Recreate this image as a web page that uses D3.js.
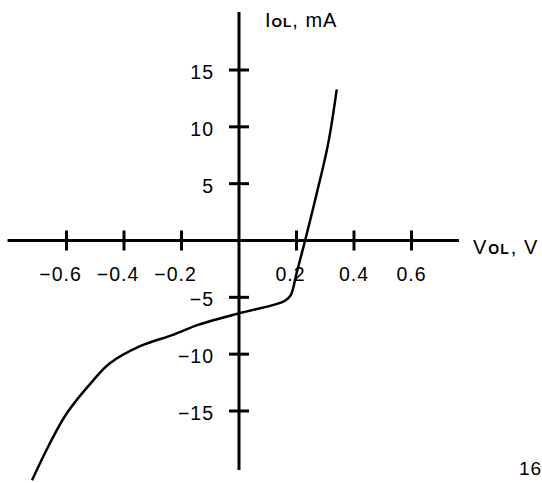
<!DOCTYPE html>
<html>
<head>
<meta charset="utf-8">
<script src="https://cdn.jsdelivr.net/npm/d3@7"></script>
<style>
  body { margin: 0; background: #fff; }
  text { font-family: "Liberation Sans", Arial, sans-serif; fill: #000; letter-spacing: 1px; }
</style>
</head>
<body>
<script>
var width = 542;
var height = 483;

// curve: V_OL in volts, I_OL in mA
var vol = [-0.72, -0.663, -0.599, -0.507, -0.449, -0.344, -0.23, -0.14, 0, 0.13, 0.16, 0.18, 0.2, 0.23, 0.27, 0.31, 0.34];
var iol = [-21.1, -18.1, -15.2, -12.3, -10.8, -9.3, -8.3, -7.4, -6.4, -5.6, -5.3, -4.8, -2.9, 0, 4.1, 8.5, 13.3];

var xTicks = [-0.6, -0.4, -0.2, 0.2, 0.4, 0.6];
var yTicks = [-15, -10, -5, 5, 10, 15];
var xTickLabels = ["\u22120.6", "\u22120.4", "\u22120.2", "0.2", "0.4", "0.6"];
var yTickLabels = ["\u221215", "\u221210", "\u22125", "5", "10", "15"];

var x = d3.scaleLinear().domain([-0.6, 0.6]).range([66.5, 411.5]);
var y = d3.scaleLinear().domain([-15, 15]).range([411, 70]);

var svg = d3.select("body").append("svg")
    .attr("width", width)
    .attr("height", height);

// axes lines
svg.append("line")
  .attr("x1", x(-0.805)).attr("x2", x(0.765))
  .attr("y1", y(0)).attr("y2", y(0))
  .attr("stroke", "black").attr("stroke-width", 3);
svg.append("line")
  .attr("x1", x(0)).attr("x2", x(0))
  .attr("y1", y(20.1)).attr("y2", y(-20.2))
  .attr("stroke", "black").attr("stroke-width", 3);

// x ticks
svg.selectAll(".xtick")
  .data(xTicks)
  .enter()
  .append("line")
  .attr("class", "xtick")
  .attr("x1", function(d) { return x(d); })
  .attr("x2", function(d) { return x(d); })
  .attr("y1", y(0) - 10)
  .attr("y2", y(0) + 10)
  .attr("stroke", "black").attr("stroke-width", 3);

svg.selectAll(".xlab")
  .data(xTicks)
  .enter()
  .append("text")
  .attr("class", "xlab")
  .attr("x", function(d) { return x(d) + (d < 0 ? -6 : (d == 0.2 ? -6 : 0)); })
  .attr("y", y(0) + 40)
  .attr("text-anchor", "middle")
  .style("font-size", "19.5px")
  .text(function(d, i) { return xTickLabels[i]; });

// y ticks
svg.selectAll(".ytick")
  .data(yTicks)
  .enter()
  .append("line")
  .attr("class", "ytick")
  .attr("x1", x(0) - 10)
  .attr("x2", x(0) + 10)
  .attr("y1", function(d) { return y(d); })
  .attr("y2", function(d) { return y(d); })
  .attr("stroke", "black").attr("stroke-width", 3);

svg.selectAll(".ylab")
  .data(yTicks)
  .enter()
  .append("text")
  .attr("class", "ylab")
  .attr("x", x(0) - 25)
  .attr("y", function(d) { return y(d) + 9; })
  .attr("text-anchor", "end")
  .style("font-size", "19.5px")
  .text(function(d, i) { return yTickLabels[i]; });

// the curve
var pts = vol.map(function(v, i) { return [v, iol[i]]; });
var line = d3.line()
  .x(function(d) { return x(d[0]); })
  .y(function(d) { return y(d[1]); })
  .curve(d3.curveCatmullRom.alpha(0.5));

svg.append("path")
  .datum(pts)
  .attr("d", line)
  .attr("fill", "none")
  .attr("stroke", "black")
  .attr("stroke-width", 2.5);

// axis titles
var ti = svg.append("text")
  .attr("x", 265).attr("y", 27)
  .style("font-size", "20px");
ti.append("tspan").text("I");
ti.append("tspan").style("font-size", "13.5px").style("font-weight", "bold").text("OL");
ti.append("tspan").text(", mA");

var tv = svg.append("text")
  .attr("x", 473).attr("y", 254)
  .style("font-size", "20px");
tv.append("tspan").text("V");
tv.append("tspan").style("font-size", "14px").style("font-weight", "bold").attr("dx", 1).text("OL");
tv.append("tspan").attr("dx", 1).text(", V");

// figure number, cut off at the edge
svg.append("text")
  .attr("x", 519).attr("y", 475)
  .style("font-size", "19px")
  .text("1644");
</script>
</body>
</html>
